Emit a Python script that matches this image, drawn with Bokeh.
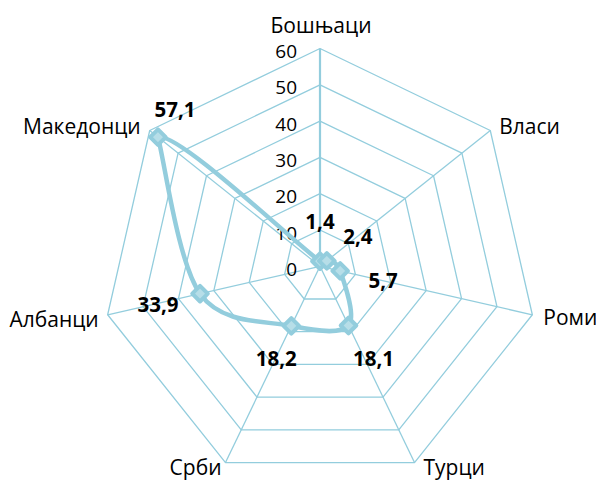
import numpy as np
from bokeh.plotting import figure
from bokeh.models import Range1d, ColumnDataSource
from bokeh.core.properties import value
from bokeh.embed import file_html
from bokeh.resources import INLINE

# ---- data ----
categories = ["Бошњаци", "Власи", "Роми", "Турци", "Срби", "Албанци", "Македонци"]
values = [1.4, 2.4, 5.7, 18.1, 18.2, 33.9, 57.1]
ticks = [0, 10, 20, 30, 40, 50, 60]
value_labels = [f"{v:.1f}".replace(".", ",") for v in values]

# ---- styles / label placement (screen px) ----
cat_align = ["center", "left", "left", "left", "right", "right", "right"]
cat_dx = [1, 9, 11, 9, -4, -9, -9]
cat_dy = [-24, -5, 2, 4, 4, 4, -5]
lab_dx = [0, 31, 43, 25, -15, -42, 17]
lab_dy = [-40, -24, 10, 33, 33, 11, -28]

COL = "#93CDDD"
FILL = "#B7DEE8"
FONT = value("Open Sans")

n = len(categories)
theta = np.arange(n) * 2 * np.pi / n
vmax = ticks[-1]

W, H = 596, 480
ppu = 217.8 / vmax  # pixels per unit
cx, cy = 319.5, 265.8
p = figure(width=W, height=H, output_backend="svg", toolbar_location=None,
           x_range=Range1d(-cx / ppu, (W - cx) / ppu),
           y_range=Range1d(-(H - cy) / ppu, cy / ppu),
           min_border=0, outline_line_color=None)
p.axis.visible = False
p.grid.visible = False
p.background_fill_color = "white"

# grid rings
for t in ticks[1:]:
    xs = list(t * np.sin(theta)) + [t * np.sin(theta[0])]
    ys = list(t * np.cos(theta)) + [t * np.cos(theta[0])]
    p.line(xs, ys, line_color=COL, line_width=1.3)

# spokes
for i in range(n):
    p.line([0, vmax * np.sin(theta[i])], [0, vmax * np.cos(theta[i])],
           line_color=COL, line_width=2.2 if i == 0 else 1.3)

# tick labels
p.text(x=[0] * len(ticks), y=ticks, text=[str(t) for t in ticks],
       x_offset=-23, y_offset=3, text_align="right", text_baseline="middle",
       text_font=FONT, text_font_size="19px", text_color="#000000")

# category labels
vx = vmax * np.sin(theta)
vy = vmax * np.cos(theta)
cat_src = ColumnDataSource(dict(x=vx, y=vy, text=categories, align=cat_align,
                                dx=cat_dx, dy=cat_dy))
p.text(x="x", y="y", text="text", x_offset="dx", y_offset="dy",
       text_align="align", text_baseline="middle", source=cat_src,
       text_font=FONT, text_font_size="21px", text_color="#000000")

# series points
v = np.array(values)
px = v * np.sin(theta)
py = v * np.cos(theta)
P = np.column_stack([px, py])

# smoothed segments (open spline + smoothed closing segment)
f = 1.0 / 6.0
x0s, y0s, x1s, y1s, c0x, c0y, c1x, c1y = [], [], [], [], [], [], [], []
for i in range(n):
    j = (i + 1) % n
    a, b = P[i], P[j]
    if i == n - 1:
        prev = P[i - 1]
        nxt = P[(j + 1) % n]
    else:
        prev = P[i - 1] if i > 0 else P[i]
        nxt = P[j + 1] if j + 1 < n else P[j]
    c0 = a + (b - prev) * f
    c1 = b - (nxt - a) * f
    x0s.append(a[0]); y0s.append(a[1]); x1s.append(b[0]); y1s.append(b[1])
    c0x.append(c0[0]); c0y.append(c0[1]); c1x.append(c1[0]); c1y.append(c1[1])

p.bezier(x0=x0s, y0=y0s, x1=x1s, y1=y1s, cx0=c0x, cy0=c0y, cx1=c1x, cy1=c1y,
         line_color=COL, line_width=4.5, line_cap="round")

p.scatter(px, py, marker="square", angle=np.pi / 4, size=11,
          fill_color=FILL, line_color=COL, line_width=4, line_join="round")

# data labels
lab_src = ColumnDataSource(dict(x=px, y=py, text=value_labels, dx=lab_dx, dy=lab_dy))
p.text(x="x", y="y", text="text", x_offset="dx", y_offset="dy",
       text_align="center", text_baseline="middle", source=lab_src,
       text_font=FONT, text_font_size="20.5px", text_font_style="bold",
       text_color="#000000")

open("out.html", "w").write(file_html(p, INLINE))
